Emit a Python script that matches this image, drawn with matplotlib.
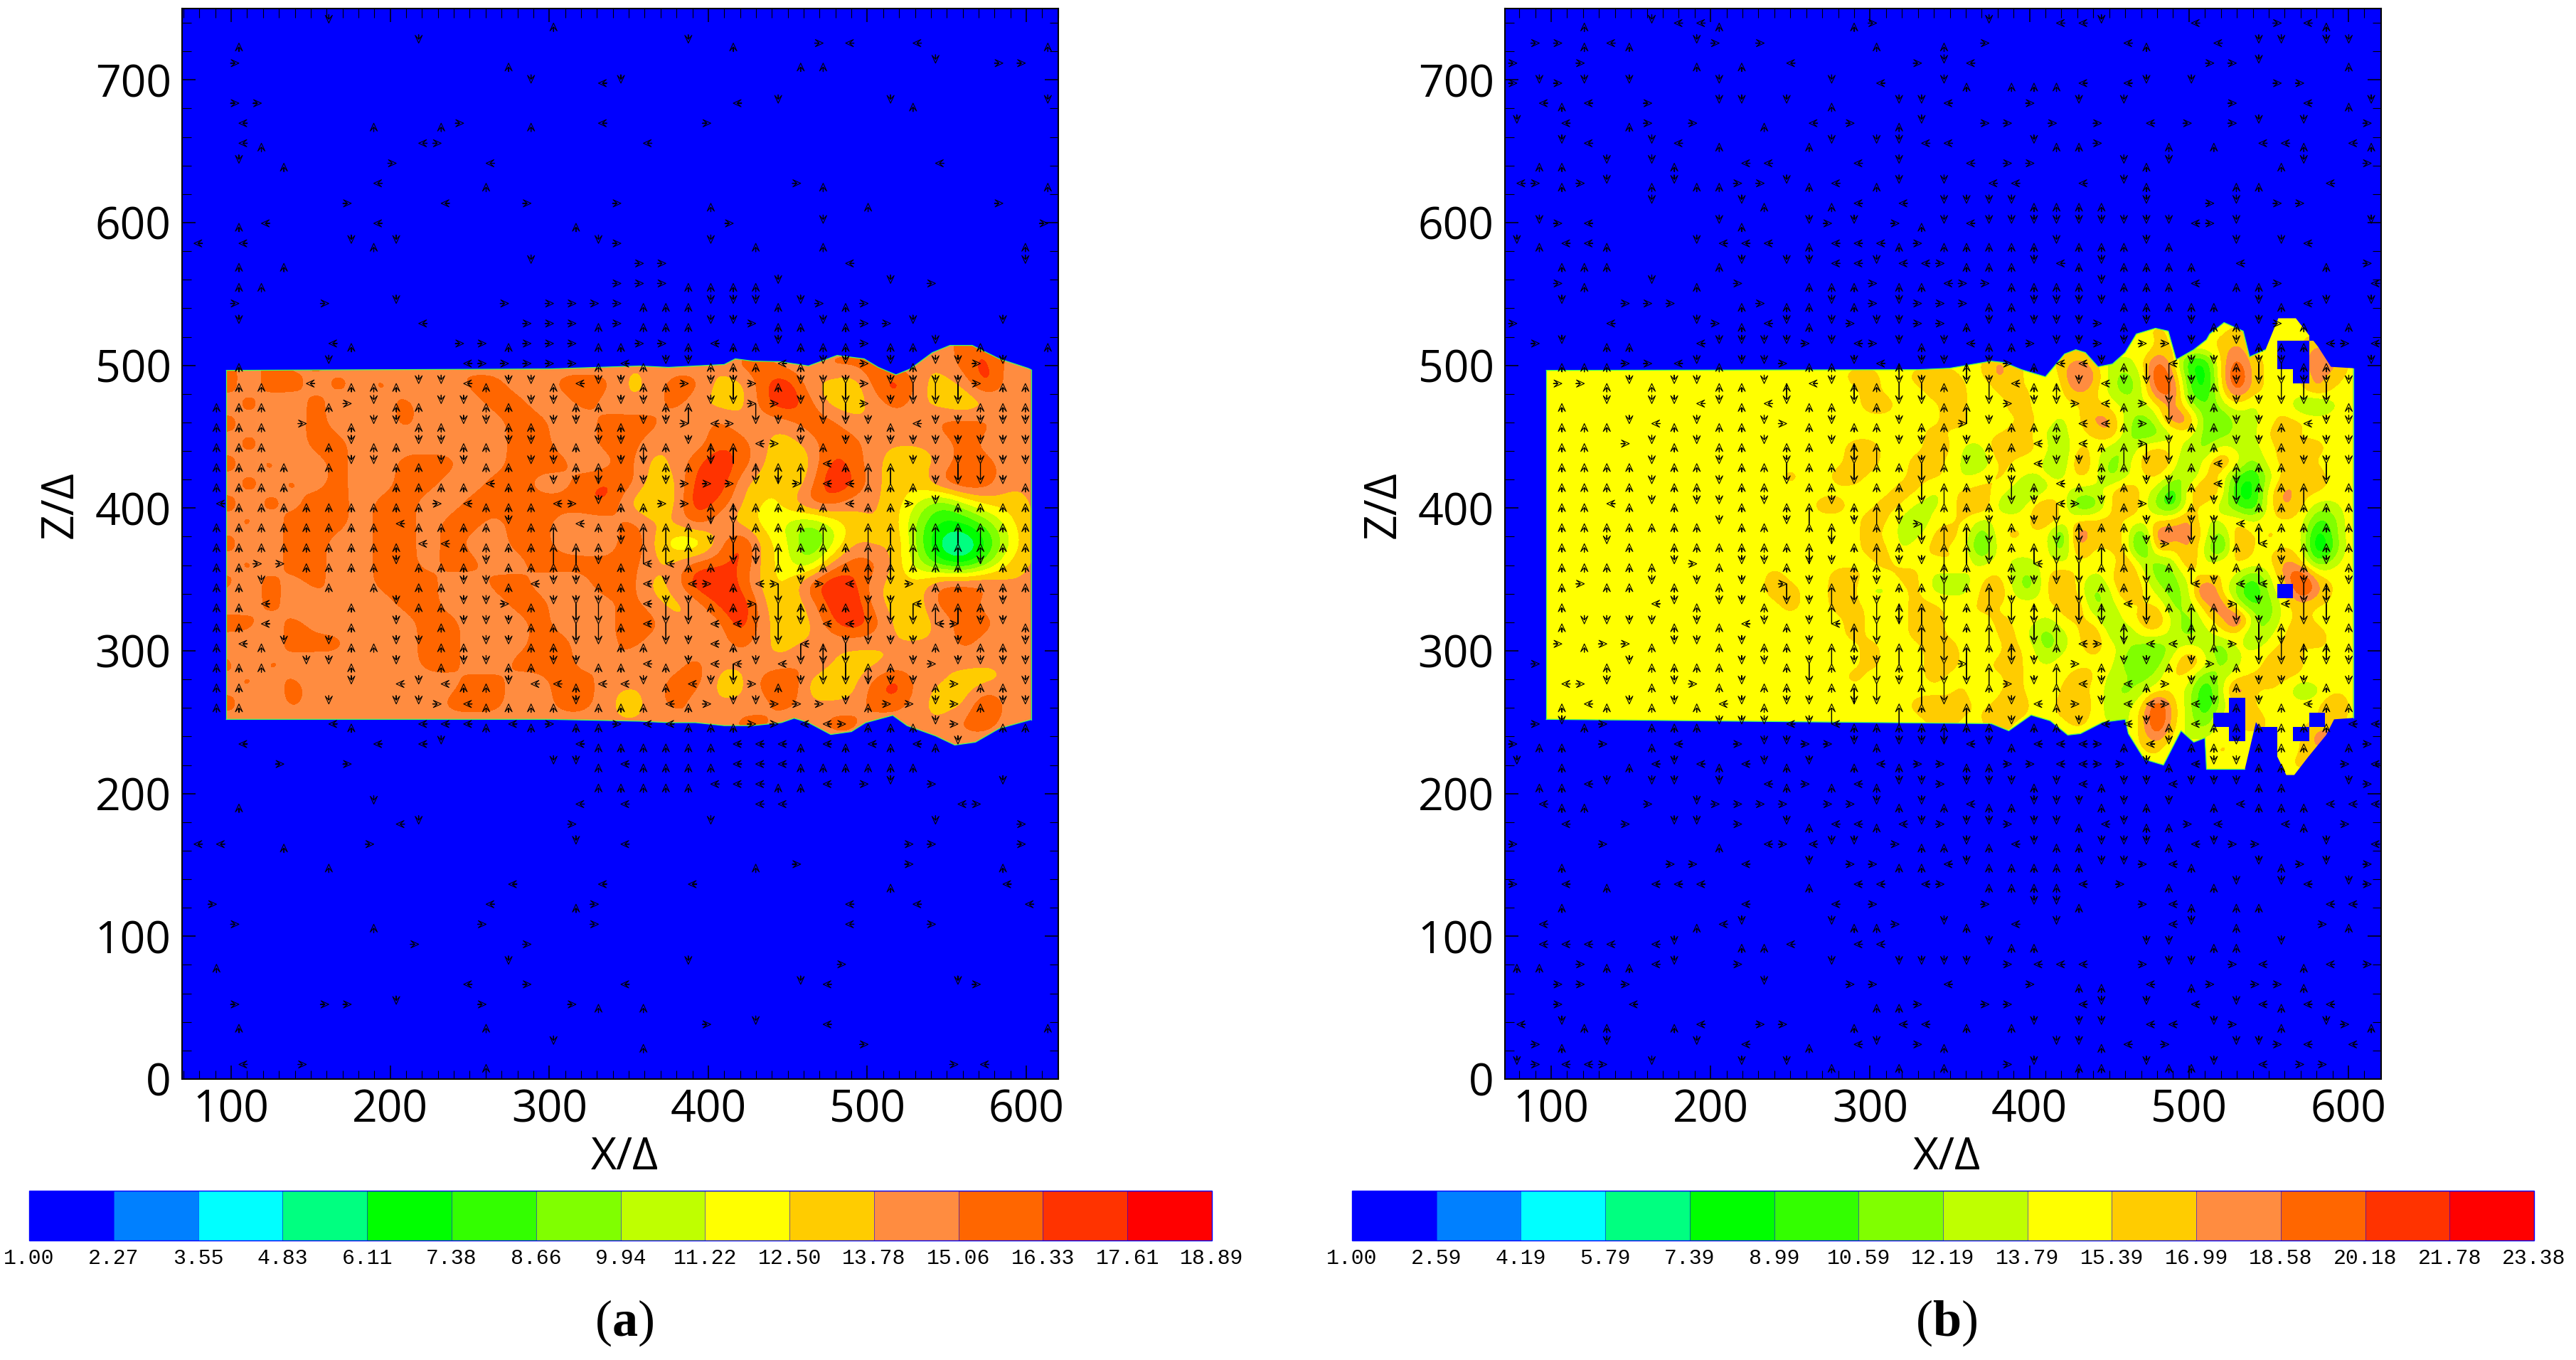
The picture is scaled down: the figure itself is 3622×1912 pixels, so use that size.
#!/usr/bin/env python3
"""Two contour panels (a, b) of a jet cross-section with velocity arrows."""

import numpy as np
import matplotlib
matplotlib.use('Agg')
import matplotlib.pyplot as plt
from matplotlib.colors import BoundaryNorm, ListedColormap
from matplotlib.patches import Polygon
from matplotlib.ticker import MultipleLocator

plt.rcParams['font.family'] = ['Open Sans', 'DejaVu Sans']
plt.rcParams['mathtext.fontset'] = 'custom'
plt.rcParams['mathtext.rm'] = 'Liberation Serif'
plt.rcParams['mathtext.bf'] = 'Liberation Serif:bold'

W, H = 3622, 1912

band_colors = ['#0000ff', '#0080ff', '#00ffff', '#00ff80', '#00ff00', '#33ff00', '#80ff00',
               '#bfff00', '#ffff00', '#ffcc00', '#ff8c40', '#ff6600', '#ff3300', '#ff0000']
levels_a = [1.00, 2.27, 3.55, 4.83, 6.11, 7.38, 8.66, 9.94, 11.22, 12.50, 13.78, 15.06, 16.33, 17.61, 18.89]
levels_b = [1.00, 2.59, 4.19, 5.79, 7.39, 8.99, 10.59, 12.19, 13.79, 15.39, 16.99, 18.58, 20.18, 21.78, 23.38]

# jet outline
upper_x_a = [97, 200, 300, 357, 375, 392, 410, 417, 428, 445, 463, 481, 498, 507, 518, 527, 541, 552, 566, 583, 601, 603]
upper_z_a = [496.5, 497, 497.5, 499.6, 498.6, 499.6, 500.6, 504.6, 503, 502.6, 499.6, 507, 504.6, 498.6, 493.4, 497.5, 509, 514, 514, 504.6, 498, 497]
lower_x_a = [97, 300, 357, 375, 392, 410, 428, 446, 454, 463, 477, 490, 499, 516, 525, 543, 555, 568, 583, 603]
lower_z_a = [252, 252, 250.7, 249.7, 249.7, 247.6, 247.6, 249.7, 252.8, 249.7, 241.4, 243.4, 249.7, 254.8, 247.6, 240.4, 234, 236, 245.6, 251.8]

upper_x_b = [97, 330, 350, 376, 384, 395, 410, 422, 429, 435, 443, 452, 460, 467, 479, 487, 492, 503, 511, 513, 522, 534, 538, 548, 556, 567, 581, 589, 603]
upper_z_b = [496.5, 497, 498, 503, 502, 497, 492, 508, 511, 509, 499, 501, 509, 522, 526, 524, 504, 511, 518, 522, 530, 524, 506, 511, 533, 533, 513, 499, 498]
lower_x_b = [97, 376, 387, 401, 413, 424, 432, 446, 460, 462, 472, 484, 495, 503, 510, 511, 535, 542, 551, 561, 566, 575, 586, 591, 603]
lower_z_b = [252, 249, 244, 255, 251, 241, 242, 250, 252, 242, 224, 220, 244, 236, 239, 217, 217, 250, 236, 213, 213, 226, 241, 252, 253]

# panel a field on a 14 unit grid, x = 97 .. 603, z = 515 .. 235
field_a_left = [
    [14, 14, 16, 14, 16, 14, 14, 14, 14, 14, 14, 14, 14, 14, 14, 14, 14, 14, 14],
    [16, 14, 16, 14, 16, 14, 16, 14, 14, 14, 16, 14, 14, 14, 14, 14, 14, 14, 14],
    [16, 14, 16, 16, 14, 16, 14, 16, 14, 14, 14, 16, 16, 14, 14, 16, 16, 16, 13],
    [14, 16, 14, 14, 16, 14, 16, 14, 16, 14, 14, 14, 16, 16, 14, 14, 16, 14, 14],
    [16, 14, 16, 14, 16, 14, 14, 14, 16, 14, 14, 14, 14, 16, 16, 14, 14, 16, 16],
    [14, 16, 14, 14, 16, 16, 14, 14, 14, 14, 14, 14, 14, 16, 16, 14, 14, 16, 16],
    [16, 14, 16, 14, 14, 16, 14, 14, 16, 16, 16, 14, 14, 16, 16, 16, 14, 14, 16],
    [14, 16, 14, 16, 14, 16, 14, 14, 16, 16, 14, 14, 16, 16, 14, 14, 16, 17, 16],
    [16, 14, 16, 14, 16, 16, 14, 16, 16, 14, 14, 16, 16, 16, 16, 16, 16, 17, 13],
    [14, 16, 14, 16, 16, 16, 14, 16, 16, 14, 16, 16, 14, 16, 16, 14, 14, 14, 16],
    [16, 14, 14, 16, 16, 14, 14, 16, 16, 14, 16, 14, 14, 16, 16, 14, 14, 13, 17],
    [14, 16, 14, 16, 16, 14, 14, 16, 16, 14, 16, 16, 14, 14, 16, 16, 16, 16, 16],
    [16, 14, 16, 14, 16, 14, 14, 16, 16, 16, 14, 14, 16, 16, 14, 14, 14, 17, 16],
    [14, 14, 16, 14, 14, 16, 14, 14, 16, 16, 14, 14, 14, 16, 16, 14, 14, 14, 16],
    [16, 16, 14, 16, 14, 14, 14, 14, 14, 16, 16, 14, 14, 14, 16, 14, 14, 14, 17],
    [14, 14, 14, 16, 16, 16, 14, 14, 14, 16, 16, 14, 14, 14, 16, 16, 14, 14, 16],
    [16, 14, 16, 14, 14, 14, 14, 14, 14, 16, 16, 14, 14, 16, 16, 16, 14, 16, 14],
    [14, 16, 14, 16, 14, 16, 14, 14, 14, 14, 14, 16, 16, 14, 14, 16, 16, 14, 14],
    [16, 14, 14, 16, 14, 14, 14, 14, 14, 14, 16, 16, 16, 14, 14, 16, 16, 14, 13],
    [14, 16, 14, 14, 14, 14, 14, 14, 14, 14, 14, 14, 14, 14, 14, 14, 14, 14, 14],
    [14, 14, 14, 14, 14, 14, 14, 14, 14, 14, 14, 14, 14, 14, 14, 14, 14, 14, 14],
]
field_a_right = [
    [14, 14, 14, 14, 14, 14, 14, 14, 14, 14, 14, 14, 14, 14, 16, 16, 16, 14],
    [14, 14, 14, 14, 16, 16, 14, 14, 16, 16, 16, 14, 14, 14, 16, 17, 14, 14],
    [14, 16, 16, 13, 13, 16, 18, 14, 13, 12, 16, 18, 14, 13, 14, 18, 14, 14],
    [14, 16, 14, 13, 13, 16, 18, 16, 13, 13, 14, 16, 14, 13, 12, 13, 14, 14],
    [16, 14, 14, 16, 14, 14, 14, 16, 16, 14, 14, 14, 14, 16, 16, 16, 14, 14],
    [14, 14, 14, 16, 16, 14, 13, 14, 16, 16, 14, 14, 14, 14, 16, 14, 14, 14],
    [13, 14, 16, 18, 16, 14, 12, 13, 17, 16, 14, 13, 13, 14, 16, 16, 14, 14],
    [13, 13, 17, 18, 14, 13, 12, 14, 18, 17, 14, 13, 13, 16, 17, 16, 14, 14],
    [12, 13, 18, 16, 14, 12, 13, 16, 16, 14, 14, 13, 11, 8, 11, 13, 13, 14],
    [14, 14, 16, 14, 13, 12, 11, 9, 11, 13, 14, 13, 9, 7, 7, 9, 12, 14],
    [14, 11, 10, 14, 18, 13, 12, 8, 10, 14, 13, 14, 9, 5, 4, 7, 11, 14],
    [14, 14, 16, 16, 17, 13, 12, 9, 14, 16, 16, 13, 10, 7, 6, 9, 13, 14],
    [13, 14, 18, 18, 16, 13, 12, 16, 18, 17, 14, 13, 13, 16, 16, 16, 14, 14],
    [14, 13, 14, 17, 18, 14, 12, 14, 17, 18, 14, 13, 13, 16, 16, 14, 14, 14],
    [16, 14, 14, 14, 18, 14, 13, 13, 16, 18, 16, 13, 13, 14, 16, 16, 14, 14],
    [14, 14, 14, 14, 16, 14, 13, 14, 14, 14, 14, 14, 14, 14, 16, 14, 14, 14],
    [14, 14, 16, 14, 14, 14, 14, 16, 14, 13, 13, 14, 14, 14, 14, 14, 14, 14],
    [14, 16, 16, 13, 13, 16, 18, 13, 12, 13, 16, 18, 14, 14, 13, 13, 14, 14],
    [14, 16, 14, 14, 14, 14, 16, 14, 14, 14, 16, 16, 14, 13, 13, 18, 14, 14],
    [14, 14, 16, 14, 16, 16, 14, 14, 16, 16, 14, 14, 14, 14, 16, 16, 14, 14],
    [14, 14, 14, 14, 14, 14, 14, 14, 14, 14, 14, 14, 14, 14, 14, 14, 14, 14],
]

# panel b field on a 10 unit grid, x = 100 .. 600, z = 532 .. 212; a 0 means no jet fluid there
field_b_upstream = 15  # x = 100 .. 230 is one flat band
field_b_left = [
    [15, 15, 15, 15, 15, 15, 15, 15, 15, 15, 15, 15, 15, 15],
    [15, 15, 15, 15, 15, 15, 15, 15, 15, 15, 15, 15, 15, 15],
    [15, 15, 15, 15, 15, 15, 15, 15, 15, 15, 15, 15, 15, 15],
    [15, 15, 15, 15, 15, 15, 15, 15, 15, 15, 15, 15, 15, 15],
    [15, 15, 15, 15, 15, 16, 16, 15, 15, 16, 16, 16, 15, 15],
    [15, 15, 15, 15, 15, 15, 16, 15, 15, 15, 16, 16, 16, 13],
    [15, 15, 15, 15, 15, 15, 16, 16, 15, 15, 15, 16, 16, 13],
    [15, 15, 15, 15, 15, 15, 15, 15, 15, 15, 15, 16, 16, 13],
    [15, 15, 15, 15, 15, 15, 15, 15, 15, 15, 16, 15, 15, 15],
    [15, 15, 15, 15, 15, 16, 16, 15, 15, 15, 16, 16, 13, 13],
    [15, 15, 15, 15, 15, 16, 16, 15, 15, 16, 16, 15, 13, 11],
    [15, 16, 15, 15, 16, 16, 15, 15, 15, 16, 16, 15, 13, 15],
    [15, 15, 15, 15, 15, 15, 15, 15, 16, 16, 13, 15, 16, 16],
    [15, 15, 15, 16, 16, 15, 15, 16, 16, 13, 13, 15, 16, 18],
    [15, 15, 15, 15, 15, 15, 16, 16, 13, 11, 15, 15, 16, 13],
    [15, 15, 15, 15, 15, 15, 16, 15, 13, 13, 16, 16, 15, 10],
    [15, 15, 15, 15, 15, 15, 16, 16, 13, 15, 16, 15, 15, 8],
    [15, 15, 15, 15, 15, 15, 15, 16, 15, 15, 15, 16, 15, 13],
    [16, 15, 15, 15, 16, 16, 15, 15, 16, 16, 13, 13, 13, 15],
    [16, 16, 15, 15, 16, 16, 13, 13, 15, 16, 13, 13, 13, 16],
    [15, 16, 15, 15, 16, 16, 15, 15, 15, 16, 16, 15, 15, 16],
    [15, 15, 15, 15, 15, 16, 15, 15, 15, 16, 16, 15, 15, 15],
    [15, 15, 15, 15, 15, 16, 15, 15, 15, 16, 16, 15, 15, 13],
    [15, 15, 15, 15, 15, 15, 16, 15, 15, 15, 16, 16, 15, 13],
    [15, 15, 15, 15, 15, 15, 16, 15, 15, 15, 16, 16, 15, 15],
    [15, 15, 15, 15, 15, 16, 15, 15, 15, 15, 16, 15, 15, 15],
    [15, 15, 15, 15, 15, 15, 15, 15, 15, 15, 15, 15, 16, 13],
    [15, 15, 15, 15, 15, 15, 15, 15, 15, 16, 16, 16, 16, 15],
    [15, 15, 15, 15, 15, 15, 15, 15, 15, 15, 16, 16, 15, 15],
    [15, 15, 15, 15, 15, 15, 15, 15, 15, 15, 15, 15, 15, 15],
    [15, 15, 15, 15, 15, 15, 15, 15, 15, 15, 15, 15, 15, 15],
    [15, 15, 15, 15, 15, 15, 15, 15, 15, 15, 15, 15, 15, 15],
    [15, 15, 15, 15, 15, 15, 15, 15, 15, 15, 15, 15, 15, 15],
]
field_b_right = [
    [15, 15, 15, 15, 15, 15, 15, 15, 15, 15, 15, 15, 15, 15, 15, 15, 15, 15, 15, 15, 15, 15, 15],
    [15, 15, 15, 15, 15, 15, 15, 15, 15, 15, 16, 15, 15, 15, 15, 16, 15, 15, 15, 15, 0, 15, 15],
    [15, 15, 15, 15, 15, 15, 15, 15, 15, 13, 16, 15, 15, 15, 16, 18, 15, 15, 0, 0, 18, 15, 15],
    [18, 16, 15, 15, 16, 18, 16, 13, 13, 15, 20, 16, 8, 8, 16, 20, 16, 15, 0, 0, 20, 18, 15],
    [18, 16, 15, 13, 16, 20, 18, 13, 11, 13, 22, 18, 10, 7, 16, 22, 16, 15, 15, 0, 18, 16, 15],
    [16, 15, 16, 13, 15, 18, 16, 13, 11, 13, 20, 20, 10, 8, 15, 20, 16, 15, 15, 15, 18, 15, 15],
    [15, 16, 16, 13, 15, 15, 16, 15, 13, 13, 15, 18, 13, 10, 13, 15, 13, 15, 15, 11, 10, 13, 15],
    [15, 15, 16, 15, 13, 15, 18, 18, 13, 11, 13, 20, 18, 11, 10, 13, 13, 15, 16, 16, 15, 15, 15],
    [15, 16, 16, 13, 13, 15, 15, 18, 13, 10, 11, 13, 15, 11, 11, 13, 13, 16, 16, 15, 15, 15, 15],
    [18, 16, 16, 15, 11, 16, 15, 13, 11, 15, 16, 15, 13, 11, 15, 13, 13, 15, 16, 16, 16, 15, 15],
    [16, 15, 15, 13, 11, 18, 15, 11, 13, 16, 18, 15, 11, 15, 18, 15, 11, 15, 16, 16, 15, 15, 15],
    [16, 15, 13, 15, 13, 16, 15, 11, 13, 15, 16, 13, 11, 16, 15, 10, 8, 13, 16, 18, 16, 15, 15],
    [15, 13, 11, 13, 15, 13, 13, 15, 18, 15, 13, 8, 16, 18, 16, 8, 8, 15, 18, 16, 16, 15, 15],
    [13, 11, 15, 18, 15, 10, 10, 15, 18, 15, 11, 8, 16, 15, 13, 10, 8, 15, 18, 16, 13, 13, 15],
    [15, 15, 15, 18, 15, 15, 16, 16, 15, 15, 15, 16, 18, 13, 15, 15, 13, 15, 15, 15, 10, 11, 15],
    [15, 16, 15, 15, 8, 20, 16, 16, 16, 8, 20, 18, 18, 15, 10, 18, 15, 16, 15, 15, 7, 11, 15],
    [15, 15, 15, 15, 10, 18, 15, 16, 16, 7, 18, 15, 18, 13, 8, 18, 15, 15, 15, 15, 6, 10, 15],
    [15, 13, 13, 15, 13, 15, 15, 13, 18, 13, 11, 13, 18, 13, 15, 16, 15, 15, 18, 16, 10, 13, 15],
    [16, 13, 11, 15, 18, 15, 13, 15, 18, 15, 11, 11, 15, 15, 16, 13, 10, 13, 18, 22, 16, 15, 15],
    [18, 13, 11, 15, 18, 15, 11, 13, 18, 16, 13, 11, 13, 22, 15, 11, 8, 13, 0, 22, 18, 15, 15],
    [15, 15, 15, 15, 16, 18, 11, 13, 15, 15, 16, 11, 13, 16, 20, 13, 10, 11, 15, 16, 15, 15, 15],
    [16, 15, 15, 13, 15, 16, 15, 11, 15, 16, 18, 13, 11, 15, 16, 22, 13, 11, 15, 16, 15, 15, 15],
    [16, 16, 13, 11, 13, 15, 18, 13, 11, 15, 15, 13, 11, 13, 15, 15, 11, 13, 16, 16, 16, 15, 15],
    [15, 16, 15, 11, 13, 15, 16, 15, 13, 11, 10, 13, 15, 13, 10, 15, 13, 15, 16, 15, 16, 15, 15],
    [16, 16, 15, 13, 15, 15, 15, 15, 11, 10, 11, 15, 18, 15, 11, 13, 15, 16, 18, 16, 13, 15, 15],
    [15, 16, 15, 15, 15, 16, 16, 13, 13, 11, 13, 16, 15, 10, 13, 15, 16, 15, 16, 15, 15, 15, 15],
    [15, 16, 15, 13, 16, 16, 15, 13, 11, 13, 15, 15, 13, 8, 13, 20, 15, 16, 15, 11, 13, 15, 15],
    [16, 18, 15, 15, 16, 18, 15, 13, 13, 15, 22, 16, 13, 8, 13, 0, 16, 13, 15, 15, 15, 18, 15],
    [18, 15, 15, 15, 15, 16, 15, 13, 13, 16, 22, 16, 13, 10, 0, 0, 18, 15, 13, 15, 0, 16, 15],
    [15, 15, 15, 15, 15, 15, 15, 15, 13, 16, 20, 15, 13, 13, 15, 0, 15, 0, 15, 0, 18, 18, 15],
    [15, 15, 15, 15, 15, 15, 15, 15, 15, 15, 16, 13, 15, 15, 16, 15, 13, 0, 15, 15, 18, 15, 15],
    [15, 15, 15, 15, 15, 15, 15, 15, 15, 15, 15, 15, 15, 15, 15, 15, 15, 0, 15, 16, 15, 15, 15],
    [15, 15, 15, 15, 15, 15, 15, 15, 15, 15, 15, 15, 15, 15, 15, 15, 15, 15, 15, 15, 15, 15, 15],
]

# arrows: arrow_z row by row, each token is column index + direction
# U D L R short arrows, u d long ones
arrow_z = 739.8 - 14.03 * np.arange(53)
arrow_x_a = 76.6 + 14.13 * np.arange(39)
arrow_x_b = 78.5 + 14.10 * np.arange(39)
arrow_uv = {'U': (0, 12), 'D': (0, -12), 'L': (-12, 0), 'R': (12, 0), 'u': (0, 28), 'd': (0, -28)}

arrows_a = [
    "6D 16U",
    "2U 10D 22D 24U 28R 29L 32L 38U",
    "2R 14U 27U 28U 33D 36R 37R",
    "15D 18L 19D",
    "2R 3R 24L 26D 31D 32U 38D",
    "2L 8U 11U 12R 15U 18L 23R",
    "2L 3U 10L 11R 20L",
    "2D 4U 9R 13L 33L",
    "8L 13U 27R 28U 38U",
    "7R 11L 15R 19R 23U 30U 36R",
    "2U 3L 8L 17U 24R 28D 38R",
    "0L 2L 7D 8U 9D 18D 19R 23D 25U 28U 37U",
    "2U 4U 15D 20R 21R 29L 37D",
    "2U 3U 19R 20R 21R 22U 23U 24U 25U 26D 31D 33R",
    "2R 6R 9D 14R 16R 17R 18R 19R 20U 21U 22U 23D 24D 25D 26U 27D 28R 29U 30R",
    "2D 10L 15R 16R 17R 18U 19R 20U 21U 22U 23D 24D 25R 26U 27U 28D 29U 30R 31R 32D 36D",
    "6L 7U 12R 13R 14U 15R 16R 17R 18U 19U 20R 21R 22U 23L 24U 25U 26D 27U 28U 29U 30R 31U 32U 33D 35U 38U",
    "2U 6D 12L 13R 14R 15R 16R 17R 18U 19L 20U 21D 22D 23U 24U 25U 26L 27U 28D 29D 30R 31D 32U 33D 34D 35R 36D",
    "2U 3U 5L 7U 8U 9U 10D 11D 12L 13U 14D 15D 16U 17L 18D 19D 20U 21U 22R 23D 24D 25R 26U 27D 28D 29D 30R 31D 32D 33D 34D 35R 36U 37U",
    "1U 2U 3U 6U 7R 8D 9U 10U 11D 12D 13U 14U 15D 16D 17U 18U 19D 20D 21U 22u 23D 24d 25R 26R 27D 28d 29d 30R 31D 32d 33d 34d 35U 36U 37U",
    "1U 2U 3U 5R 7U 8D 9D 10U 11U 12D 13D 14U 15U 16D 17D 18U 19U 20D 21D 22R 23L 24R 25d 26D 27U 28d 29d 30D 31U 32L 33D 34D 35D 36D 37D",
    "1U 2U 3U 6U 7D 8U 9U 10D 11D 12U 13U 14D 15D 16U 17U 18D 19D 20u 21U 22D 23u 24u 25L 26R 27D 28U 29D 30D 31D 32D 33D 34D 35D 36D 37D",
    "1U 2U 3U 4U 6U 7D 8D 9U 10U 11D 12D 13U 14U 15D 16D 17U 18u 19D 20D 21U 22U 23d 25U 26u 27u 28L 29U 30u 31u 32D 33D 34D 35D 36D 37D",
    "1U 2U 3U 4U 9U 10U 11U 12U 13L 14U 15U 16D 17D 18D 19U 20D 21D 22R 23R 24R 25d 26D 27R 28L 29L 30U 31U 32U 33D 34d 35d 36D 37U",
    "1L 2U 3U 4U 5U 6U 7U 8U 9U 10U 11R 12L 13U 14U 15U 16L 17R 18D 19U 20U 21R 22R 23u 24U 25U 26U 27U 28U 29L 30U 31U 32R 33D 34U 35U 36U 37U",
    "1U 2U 3U 4U 5U 6U 7U 8U 9L 10U 11U 12U 13U 14D 15U 16u 17L 18U 19U 20u 21u 22u 23D 24d 25U 26U 27U 28u 30u 31u 32u 33u 34u 35u 36U 37U",
    "1U 2U 3U 4U 5U 6U 7U 8U 9U 10L 11L 12U 13U 14U 15U 16u 17u 18U 19D 20u 21u 22u 23D 24d 25u 26u 27U 28u 29U 30u 31u 32u 33u 34u 35u 36U 37U",
    "1U 2U 3R 4R 5U 6U 7U 8U 9D 10U 11U 12U 13D 14U 15U 16U 17U 18D 19U 20L 21L 22U 23U 24d 25D 26U 27U 28U 29U 30U 31U 32U 33U 34U 35D 36U 37U",
    "1U 2U 3D 6U 8U 10U 11U 12D 13D 14U 15L 16D 17D 18U 19U 20L 21D 22L 23R 24U 25L 26R 27D 28R 29L 30d 31d 32R 33U 34U 35U 36U 37U",
    "1U 2U 3L 7U 9D 10U 11U 12D 13D 14R 15U 16D 17D 18D 19U 20L 21D 22D 23U 24U 25R 26d 27U 28U 29U 30D 31D 32L 33u 34u 35U 36D",
    "1U 2U 3L 7U 9D 11U 12D 13D 14D 15U 16U 17d 18d 19U 20L 21d 22d 23L 24L 25d 26d 27d 28L 29L 30d 31d 32d 33L 34R 35D 36D 37U",
    "1U 2L 3U 4D 6D 7U 8U 9D 10D 11U 12U 13D 14D 15U 16U 17d 18d 19U 20U 21d 22D 23L 24U 25d 26d 27L 28u 29D 30d 31D 32D 33U 34D 35U 36U 37D",
    "1U 2U 3U 5D 6D 7U 9D 11U 12D 13D 14U 15U 16D 17D 18U 19U 20L 21U 22D 23L 24L 25D 26L 27d 28d 29d 30u 31U 32D 33R 34D 35D 36D 37D",
    "1U 2U 7D 9L 10D 11L 12U 13U 14D 15L 16L 17U 18L 19L 20D 21U 22L 23D 24d 25R 26U 27D 28d 29d 30D 31D 32D 33U 34R 35U 36U 37D",
    "1U 2U 6D 9D 10D 11R 12L 13U 14U 15U 16U 17D 18U 19U 20U 21L 22U 23R 24D 25D 26R 27R 28R 29D 30U 31R 32R 33D 34R 35U 36D 37D",
    "6L 7U 10L 11L 12L 13U 14L 15U 16R 17U 18U 19R 20L 21L 22U 23U 24U 25R 26R 27L 28L 29R 30U 31U 32U 33D 34R 36U 37U",
    "2L 8L 10L 11D 17L 18U 19U 20U 21U 22U 23U 24L 25L 26L 27U 28L 29U 30L 31U 32L 33U 34D",
    "4R 7R 16D 17D 18U 19L 20U 21U 22U 23U 24L 25L 26L 27U 28U 29U 30U 31U 32U",
    "18U 19U 20U 21U 22U 23L 24L 25L 26U 27U 28L 30R 31D 33R 36D",
    "2U 8D 17L 19L 25L 26L 34L 35R",
    "9L 10D 17R 23D 33D 37R",
    "0L 1L 4U 8R 17D 19L 32R 33R 37R",
    "6U 25U 27R 32R 36U",
    "14L 18L 22L 31U 36L",
    "1R 13L 17U 18R 29L 32L 37L",
    "2R 8U 13R 18R 29L 33R",
    "10R 15R",
    "1U 14D 22D 29R",
    "12L 15R 19L 27D 28L 34D 35R",
    "2R 6R 7R 9D 13R 17R 18U 20U",
    "2U 13U 23R 25D 28L 38U",
    "16D 20U 30R",
    "2L 5R 13U 34R 35L",
]

arrows_b = [
    "3U 6D 7L 8L 9U 15U 16R 21D 24L 25L 26D 30L 34R 35L 36U",
    "1R 2R 3U 4L 5U 8D 9R 11R 16U 19U 21R 27L 28U 31L 33D 34D 36D 37D",
    "0R 3R 8U 10U 12L 18R 19D 20L 31R 32R 33D 37U",
    "0R 1D 2R 3D 5D 9D 14D 16L 19D 20U 22U 23U 24U 25L 27L 28D 30D 34R 35R",
    "1L 2U 3L 6R 9D 10D 12D 14U 17D 18D 19L 23R 25D 27D 32R 35L 37U 38D",
    "0D 2L 5U 6R 8R 11U 13L 15R 17U 18D 21R 22R 24R 26R 28L 30R 32R 33D 35D 38R",
    "2D 3L 6D 7L 9U 13U 14D 16D 17D 18L 19L 23D 24U 25U 26R 29U 31U 33L 34L 35U 37L 38U",
    "1U 2U 4D 6D 7U 10L 11L 15L 17D 20L 22R 23R 27D 28U 29D 34U 35D 38R",
    "0L 1R 2U 3R 4D 6U 7D 8U 9U 10R 11R 12D 13U 14L 16U 17D 19D 21L 22L 25L 27D 28U 32U 33U 36L",
    "6D 10D 11U 14U 15L 17L 19D 20D 21D 22D 23U 24U 25U 26U 28D 31R 32D 34R 35R",
    "1D 2R 3L 9D 10U 13D 14R 15D 17R 18U 19D 20L 21D 22D 23D 24D 25D 26D 27D 28D 29D 30L 31R 32D 38D",
    "0D 1U 2L 3L 4U 8D 9L 10L 11L 13U 14L 15L 16L 17U 18R 19U 20U 21U 22U 23U 24D 25U 26U 27U 28D 29U 32D 34D 35L",
    "2U 3U 4U 9U 10D 12D 13D 14L 15L 16D 17L 18L 19R 20U 21U 22U 23D 24L 25U 26D 27U 28U 29U 30U 32L 36U 38R",
    "2R 3U 6D 8U 10R 13U 14U 15U 16R 17U 18U 19L 20R 21R 22U 23U 24U 25U 26D 27U 28U 29U 30L 32U 33U 34R 38L",
    "2D 5R 6R 7R 10U 11R 12U 13U 14D 15U 16R 17D 18R 19R 20R 21U 22U 23D 24D 25D 26D 27U 28U 29U 30U 31U 33D 34U 35L 36D 38D",
    "0R 4L 8D 9R 10U 11L 12D 13U 14D 15R 16D 17D 18R 19R 20U 21D 22U 23D 24D 25D 26R 27U 28D 30D 31U 32U 33D 34R 35U 37U",
    "1R 2D 4U 5U 8L 9D 10D 11D 12D 13R 14D 15L 16R 17D 18U 19D 20L 21U 22U 23R 24D 25D 26R 27D 28R 29R 30D 32D 33U 34U 35U 36L 37R 38L",
    "2U 3U 4U 5R 6R 7L 8D 9U 10D 11D 12R 13U 14U 15D 16L 17U 18D 19D 20U 21D 22R 23U 24L 25L 26D 27U 29L 30D 31D 32U 33D 34D 35U 36U 38D",
    "2R 3R 4U 5D 6U 7D 8D 9U 10U 11D 12U 13L 14D 15U 16U 17d 18D 19U 20d 21D 22L 23U 24U 25D 26L 27D 28d 29d 30D 31U 32D 33d 34d 35D 36D 37D",
    "2U 4D 6D 7D 8L 9D 10U 11L 12d 13U 14U 15d 16U 17d 18d 19U 20u 21d 22R 23D 24d 25R 26L 27U 28R 29d 30D 31U 32D 33D 34d 35d 36d 37U",
    "2U 3U 4U 5D 6L 7U 8D 9U 10U 11D 12R 13U 14D 15U 16U 17D 18U 19U 20R 21D 22U 23U 24U 25L 26L 27U 28R 29d 30U 31U 32D 33D 34U 35L 36D 37D",
    "2U 3U 5R 6D 7U 8D 9U 10U 11D 12U 13U 14D 15U 16u 17D 18D 19u 20D 21U 22U 23L 24D 25L 26U 27u 28R 29D 30U 31U 32D 33D 34U 35D 36D 37D",
    "2U 3U 4U 5U 6D 7U 8U 9D 10U 11U 12D 13U 14U 15d 16U 17U 18D 19U 20D 21D 22U 23L 24D 25D 26U 27U 28d 29d 30U 31L 32u 33U 34U 35D 36D 37D",
    "2U 3U 4U 5U 6D 7U 8U 9D 10U 11U 12d 13U 14U 15d 16U 17U 18d 19u 20U 21D 22D 23U 24L 25U 26D 27U 28D 29D 30U 31L 32D 33U 34U 35u 36d 37U",
    "2U 3U 4L 5U 6D 7U 8D 9D 10U 11D 12U 13u 14D 15U 16u 17U 18d 19U 20U 21U 22d 23D 24L 25R 26D 27U 28R 29d 30U 31D 32d 33U 34U 35U 36U 37U",
    "2U 3U 4U 5U 6U 7U 8U 9D 10U 11U 12D 13U 14u 15D 16U 17d 18R 19u 20u 21D 22U 23D 24d 25U 26U 27U 28D 29U 30D 31D 32L 33u 34U 35U 36U 37U",
    "2U 3U 4D 5U 7U 8U 9U 10U 11U 12U 13u 14D 15U 16u 17U 18d 19u 20u 21d 22U 23u 24d 25d 26u 27u 28D 29R 30d 31d 32U 33L 34U 35u 36U 37U",
    "2U 3U 4U 5U 6U 7D 8R 9U 10D 11D 12U 13D 14D 15U 16U 17D 18D 19U 20U 21d 22U 23L 24d 25d 26U 27U 29U 30u 31d 32U 33u 34D 35U 36D 37U",
    "2U 3R 4U 5U 6D 7U 8D 9U 10D 11U 12R 13D 14u 15D 16D 17U 18U 19d 20U 21u 22D 23D 24d 25d 26U 27U 28d 29U 30L 31D 32L 33L 34D 35D 36U 37D",
    "2U 6L 7D 8U 9D 10D 11U 12d 13D 14u 15d 16D 17u 18u 19d 20U 21u 22D 23U 24u 25d 26U 27L 28d 29U 30u 31u 32R 33D 34L 35d 36d 37U",
    "2U 3D 4D 5D 6D 7U 8D 9U 10L 11D 12U 13D 14L 15u 16d 17d 18u 19d 20U 21u 22d 23d 24u 25d 26d 27u 28d 30U 31u 32d 33D 34u 35d 36d 37U",
    "2R 3U 4R 5R 6U 7D 8D 9U 10D 11U 12U 13D 14u 15U 16d 17u 18u 19d 20u 21U 22U 23d 24U 25L 26R 27d 28L 29L 30d 31U 32R 33d 34D 35U 36U 37U",
    "1R 4U 5D 6U 7U 8U 9U 10D 11D 12U 13D 14U 15D 16D 17U 18u 19d 20R 21u 22d 23D 24u 25R 26U 27D 28D 29U 30D 31R 32U 33d 34d 35d 36d 37D",
    "2L 3R 4D 6U 7D 8R 9U 10D 11U 12U 13d 14U 15u 16d 17D 18u 19d 20d 21U 22R 23D 24u 25L 26D 27L 28U 29R 30D 31D 32U 33D 34D 35D 36U 37D",
    "2U 3L 4U 5D 6U 7D 8U 9L 10D 11U 12D 13D 14u 15D 16d 17u 18U 19d 20u 21U 22D 23L 24U 25R 26D 27L 28L 29R 30L 31D 32U 33D 34U 35L 36U 37U",
    "1R 2D 3U 4R 6U 7U 8U 9D 10D 11D 12L 13D 14L 15U 16U 17U 18U 19u 20U 21U 22D 23U 24U 25D 26L 27L 28D 29U 30L 31U 32U 33U 34U 35U 36U 37L 38L",
    "0R 1U 2U 4R 6U 7L 10R 11D 12D 13R 14R 15D 16U 17D 18D 19D 20L 21D 22U 23L 24L 25L 26R 27U 28L 29D 30U 31U 32D 33U 34U 35U 37U 38R",
    "0D 2U 5U 6L 7D 8L 9U 10L 11D 12U 13D 15U 16L 17U 18R 19R 20U 21U 22R 23R 24L 25L 26R 27R 28D 29U 30L 31D 32D 33U 34U 37R 38L",
    "1U 2U 3L 4D 6D 7D 9D 11L 12U 13R 14U 15L 16U 17D 18D 19R 20D 21D 22D 23U 24D 25L 26U 27D 28D 29L 30D 31D 32D 33U 34U 37D 38R",
    "1L 2U 3U 6R 8D 9R 10R 11R 12R 14R 15R 16D 17U 18D 19U 20L 21U 22U 23D 24D 25D 26U 27D 28U 29D 31U 32L 33U 34U 35U 36L 37L 38L",
    "2L 5R 7D 8D 10R 12D 13U 14L 15L 16U 17L 18D 19R 20D 21D 22R 23D 24D 25U 26L 27D 28U 29U 30R 31L 34L 35U 37R",
    "0R 4R 9U 11L 12R 13L 14D 15D 17R 18U 19U 20D 21U 22L 23D 24U 25U 26D 27D 28D 29U 30L 31D 32R 33R 36D 38L",
    "2U 7R 8R 10L 13D 15R 16R 17U 18U 19L 20D 21U 22U 23U 24U 25U 26D 27D 28R 29L 30U 33D 34U 35R 36D 38R",
    "0R 2L 4U 6L 7L 8L 13U 15L 16L 18L 19R 21U 22U 23U 24U 25L 27R 29U 31U 32D 34D 35L 37D 38R",
    "2U 10L 14L 16R 21R 23D 24D 25U 28R 29L 30U 32U 33U 36L 37L",
    "1L 8U 9L 10D 14D 15U 16U 17R 19D 20U 22L 24D 29L 30D 32U 36R 37U",
    "1L 2L 3L 4L 6L 7D 10U 11U 12L 15L 16L 21D 22U 23U 28D 29D 31U 32U 34D",
    "0U 1U 3R 4U 5U 6L 7D 10R 14D 17D 18D 19D 20D 22R 23L 24L 25L 28R 29D 30D 32R 33L 35U 36L 38R",
    "2R 3R 5R 11D 15R 16R 19L 23R 25U 26U 28L 30U 31R 33R 34R 35U",
    "2R 5L 16U 17U 18R 21R 22R 25L 26D 28D 30L 32D 33L 34U 35L 36L",
    "0L 2D 3U 4U 7U 8L 11R 12R 15U 17L 18L 20U 22U 23D 25D 26D 28L 29L 31D 32R 34U 36D 37R 38U",
    "1R 2U 4D 8D 10L 13U 15L 16D 18R 19U 24D 25D 26U 27L 29R 32D 33D 34R 35L 37L",
    "0D 1R 2L 3L 4R 6D 10D 12D 14U 17U 19U 22R 23D 25U 26U 28D 29U 30U 31D 33L 35R 36R",
]


def px_rect(left, right, top, bottom):
    return [left / W, 1 - bottom / H, (right - left) / W, (bottom - top) / H]


def arrow_arrays(rows, xs):
    x, z, u, v = [], [], [], []
    for j, row in enumerate(rows):
        for tok in row.split():
            x.append(xs[int(tok[:-1])])
            z.append(arrow_z[j])
            u.append(arrow_uv[tok[-1]][0])
            v.append(arrow_uv[tok[-1]][1])
    return x, z, u, v


def draw_panel(rect, cbar_rect, xlim, extent, field, levels, upper, lower, rows, arrow_x,
               xlabel_x, ylabel_x, fringe_xmax):
    ax = fig.add_axes(px_rect(*rect), facecolor='#0000ff')

    raw = np.array(field, dtype=float)
    holes = np.ma.masked_where(raw != 0, raw)
    values = np.where(raw == 0, np.median(raw), raw)
    cmap = ListedColormap(band_colors)
    norm = BoundaryNorm(levels, cmap.N)
    im = ax.imshow(values, extent=extent, origin='upper', aspect='auto', cmap=cmap, norm=norm,
                   interpolation='bicubic', interpolation_stage='data', zorder=1)
    outline = list(zip(upper[0], upper[1])) + list(zip(lower[0][::-1], lower[1][::-1]))
    im.set_clip_path(Polygon(outline, closed=True, transform=ax.transData))
    if holes.count():
        ax.imshow(holes, extent=extent, origin='upper', aspect='auto', interpolation='nearest',
                  cmap=ListedColormap(['#0000ff']), zorder=1.5)
    ax.set_xlim(*xlim)
    ax.set_ylim(0, 750)

    # thin green fringe along the jet edge
    for xs, zs, xmax in ((upper[0], upper[1], fringe_xmax[0]), (lower[0], lower[1], fringe_xmax[1])):
        xs, zs = np.array(xs), np.array(zs)
        keep = xs <= xmax
        ax.plot(xs[keep], zs[keep], color='#40ff60', lw=0.9, zorder=2)
    ax.plot([upper[0][0], lower[0][0]], [upper[1][0], lower[1][0]], color='#40ff60', lw=0.9, zorder=2)
    ax.plot([upper[0][-1], lower[0][-1]], [upper[1][-1], lower[1][-1]], color='#40ff60', lw=0.9, zorder=2)

    x, z, u, v = arrow_arrays(rows, arrow_x)
    ax.quiver(x, z, u, v, pivot='tip', angles='uv', units='dots', scale_units='dots', scale=1,
              width=0.2, headwidth=50, headlength=55, headaxislength=28, minshaft=1, minlength=0,
              facecolor='none', edgecolor='k', linewidth=0.8, zorder=3)

    ax.xaxis.set_major_locator(MultipleLocator(100))
    ax.xaxis.set_minor_locator(MultipleLocator(10))
    ax.yaxis.set_major_locator(MultipleLocator(100))
    ax.yaxis.set_minor_locator(MultipleLocator(20))
    ax.tick_params(which='major', direction='in', top=True, right=True, length=14, width=1.1,
                   labelsize=45, pad=9)
    ax.tick_params(which='minor', direction='in', top=True, right=True, length=9, width=0.8)
    ax.tick_params(axis='y', which='major', pad=11)
    for s in ax.spines.values():
        s.set_linewidth(1.5)
    ax.set_xlabel('X/Δ', fontsize=45)
    ax.xaxis.set_label_coords((xlabel_x - rect[0]) / (rect[1] - rect[0]), -0.0735)
    ax.xaxis.label.set_va('center')
    ax.set_ylabel('Z/Δ', fontsize=45)
    ax.yaxis.set_label_coords((ylabel_x - rect[0]) / (rect[1] - rect[0]), (1517 - 710) / 1505)
    ax.yaxis.label.set_va('center')

    cax = fig.add_axes(px_rect(*cbar_rect))
    cb = fig.colorbar(im, cax=cax, orientation='horizontal', ticks=levels, drawedges=True)
    cb.set_ticklabels(['%.2f' % lev for lev in levels])
    cb.outline.set_edgecolor('#0000ff')
    cb.outline.set_linewidth(1.0)
    cb.dividers.set_color('#0000ff')
    cb.dividers.set_linewidth(0.4)
    cax.tick_params(length=0, pad=8, labelsize=21.5)
    for lab in cax.get_xticklabels():
        lab.set_family('Liberation Mono')
    return ax


fig = plt.figure(figsize=(W / 100, H / 100), dpi=100, facecolor='white')

field_a = np.hstack([field_a_left, field_a_right])
field_b = np.hstack([np.full((33, 14), field_b_upstream), field_b_left, field_b_right])

draw_panel((256, 1488, 12, 1517), (41, 1704, 1674, 1744), (69.1, 620.1),
           (90, 610, 228, 522), field_a, levels_a,
           (upper_x_a, upper_z_a), (lower_x_a, lower_z_a), arrows_a, arrow_x_a, 878, 85, (603, 603))
draw_panel((2116, 3348, 12, 1517), (1901, 3563, 1674, 1744), (71, 620.5),
           (95, 605, 207, 537), field_b, levels_b,
           (upper_x_b, upper_z_b), (lower_x_b, lower_z_b), arrows_b, arrow_x_b, 2737, 1945, (548, 535))

fig.text(878 / W, 1 - 1860 / H, r'($\mathbf{a}$)', family='Liberation Serif', fontsize=52,
         ha='center', va='center')
fig.text(2737 / W, 1 - 1860 / H, r'($\mathbf{b}$)', family='Liberation Serif', fontsize=52,
         ha='center', va='center')

fig.savefig('out.png', dpi=100)
plt.close()
